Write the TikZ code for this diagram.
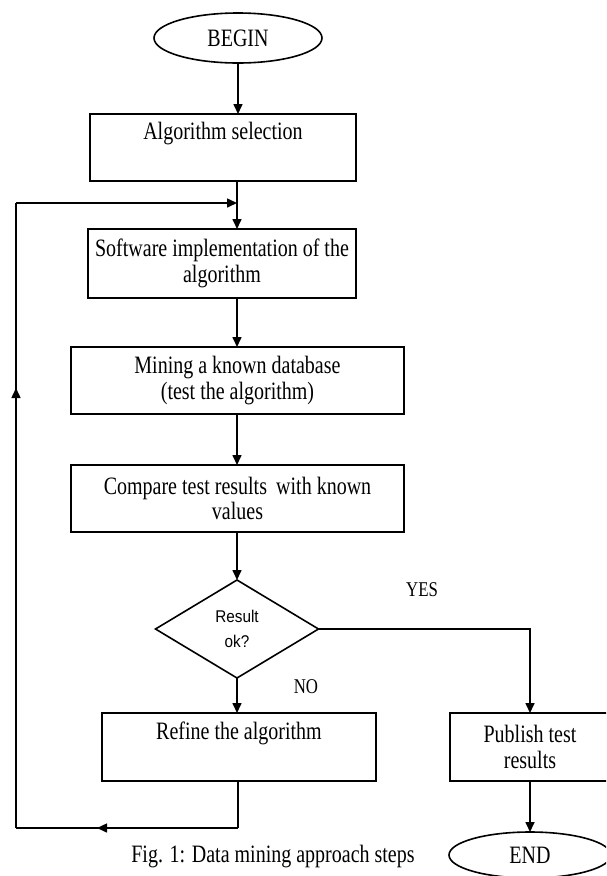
\documentclass[tikz,border=0pt]{standalone}
\usepackage{fontspec}
\setmainfont{Liberation Serif}[FakeStretch=0.8]
\newfontfamily\sansf{Liberation Sans}[FakeStretch=0.9]
\usetikzlibrary{arrows.meta,shapes.geometric,decorations.markings}
\begin{document}
\begin{tikzpicture}[x=1pt,y=-1pt,
  every node/.style={inner sep=0pt,outer sep=0pt},
  line/.style={line width=1.6pt},
  arr/.style={line, -{Triangle[length=10pt,width=9pt]}},
  midarrow/.style={line, postaction={decorate}, decoration={markings, mark=at position #1 with {\arrow{Triangle[length=10pt,width=9pt]}}}},
  stepbox/.style={draw, line width=1.6pt, rectangle, align=center, font=\fontsize{25}{25.5}\selectfont},
  term/.style={draw, line width=1.6pt, ellipse, font=\fontsize{25}{25}\selectfont},
  lbl/.style={font=\fontsize{21}{22}\selectfont}
]
\useasboundingbox (0,0) rectangle (606,876);
\clip (0,0) rectangle (606,876);
\fill[white] (0,0) rectangle (606,876);

\node[term, minimum width=168pt, minimum height=50pt] (begin) at (238,38) {BEGIN};
\node[stepbox, minimum width=266pt, minimum height=67pt] (algo) at (223,147.5) {Algorithm selection\\ \strut};
\node[stepbox, minimum width=268pt, minimum height=69pt] (soft) at (222,263.5) {Software implementation of the\\algorithm};
\node[stepbox, minimum width=333pt, minimum height=67pt] (mine) at (237.5,380.5) {Mining a known database\\(test the algorithm)};
\node[stepbox, minimum width=333pt, minimum height=67pt] (comp) at (237.5,498.5) {Compare test results\, with known\\values};
\node[draw, line width=1.6pt, diamond, minimum width=163pt, minimum height=98pt, align=center,
      font=\sansf\fontsize{17}{25}\selectfont] (dec) at (237,629) {Result\\ok?};
\node[stepbox, minimum width=274pt, minimum height=68pt] (refine) at (239,747) {Refine the algorithm\\ \strut};
\node[stepbox, minimum width=160pt, minimum height=68pt] (pub) at (530,747) {Publish test\\results};
\node[term, minimum width=162pt, minimum height=46pt] (end) at (530,855) {END};

\node[lbl] (yes) at (422,590) {YES};
\node[lbl] (no) at (306,687) {NO};
\node[font=\fontsize{25}{25}\selectfont] (cap) at (273,857) {Fig. 1: Data mining approach steps};

\coordinate (j) at (237,203);
\coordinate (b1) at (238,828);
\coordinate (b2) at (16,828);
\coordinate (b3) at (16,203);

\draw[arr] (begin.south) -- (begin.south |- algo.north);
\draw[arr] (algo.south -| j) -- (soft.north -| j);
\draw[arr] (soft.south -| j) -- (mine.north -| j);
\draw[arr] (mine.south -| j) -- (comp.north -| j);
\draw[arr] (comp.south -| j) -- (dec.north);
\draw[arr] (dec.south) -- (dec.south |- refine.north);
\draw[arr] (dec.east) -| (pub.north);
\draw[arr] (pub.south) -- (end.north);

\draw[line] (refine.south -| b1) -- (b1);
\draw[midarrow=0.635] (b1) -- (b2);
\draw[midarrow=0.704] (b2) -- (b3);
\draw[arr] (b3) -- (j);
\end{tikzpicture}
\end{document}
